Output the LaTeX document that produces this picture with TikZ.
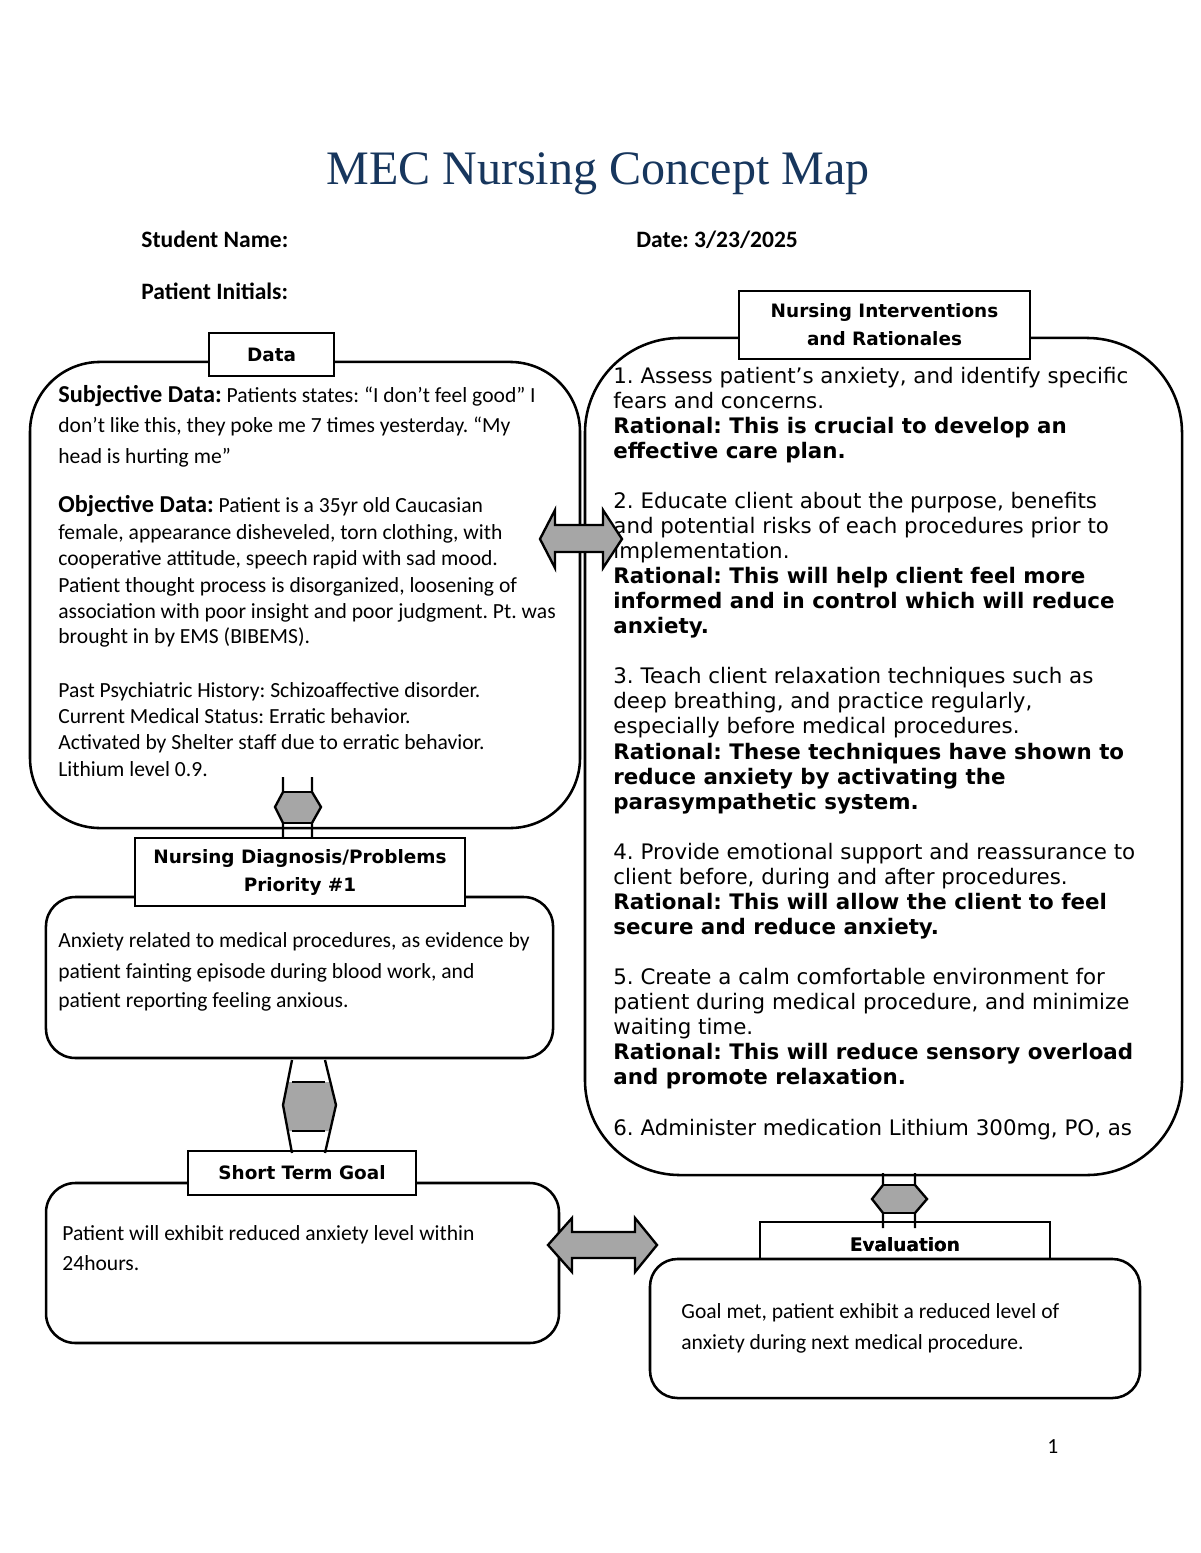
\documentclass[tikz,border=0pt]{standalone}
\usepackage{fontspec}
\setmainfont{Carlito}
\newfontfamily\dvfont{DejaVu Sans}
\newfontfamily\ttlfont{Liberation Serif}
\definecolor{titleblue}{HTML}{17365D}
\definecolor{arrowgray}{HTML}{A6A6A6}
\newcommand\RL[3]{\node[#1] (r#2) at (613,{383+25.07*#2}) {#3};}
\frenchspacing
\begin{document}
\begin{tikzpicture}[x=0.51pt,y=-0.51pt,
  rbox/.style={draw, line width=1.3pt, fill=white, inner sep=0pt},
  lbox/.style={draw, line width=0.7pt, fill=white, inner sep=0pt, align=center,
    font=\dvfont\bfseries\fontsize{9.4}{14.3}\selectfont},
  ltxt/.style={anchor=base west, inner sep=0pt, font=\fontsize{11}{13}\selectfont},
  hdr/.style={anchor=base west, inner sep=0pt, font=\bfseries\fontsize{12}{14}\selectfont},
  rtxt/.style={anchor=base west, inner sep=0pt, font=\dvfont\fontsize{10.9}{12.8}\selectfont},
  rbold/.style={anchor=base west, inner sep=0pt, font=\dvfont\bfseries\fontsize{10.9}{12.8}\selectfont},
  bigarrow/.style={draw, line width=1.2pt, fill=arrowgray, line join=miter},
  leg/.style={draw, line width=1.2pt}
]
\fill[white] (0,0) rectangle (1200,1553);
\useasboundingbox (0,0) rectangle (1200,1553);

% title and header
\node[anchor=base, inner sep=0pt, text=titleblue, font=\ttlfont\fontsize{24.5}{28}\selectfont] (title) at (598,185) {MEC Nursing Concept Map};
\node[hdr] (student) at (141,247) {Student Name:};
\node[hdr] (date) at (636,247) {Date: 3/23/2025};
\node[hdr] (initials) at (141,299) {Patient Initials:};

% rounded boxes
\node[rbox, rounded corners=35.7pt, minimum width=280.5pt, minimum height=237.7pt] (data) at (305,595) {};
\node[rbox, rounded corners=48.5pt, minimum width=304.5pt, minimum height=426.9pt] (interv) at (883.5,756.5) {};
\node[rbox, rounded corners=15pt, minimum width=258.6pt, minimum height=82.1pt] (diag) at (299.5,977.5) {};
\node[rbox, rounded corners=15pt, minimum width=261.6pt, minimum height=81.6pt] (goal) at (302.5,1263) {};
\node[lbox, minimum width=147.9pt, minimum height=23.5pt] (evallab) at (905,1245) {Evaluation};
\node[rbox, rounded corners=14pt, minimum width=249.9pt, minimum height=70.9pt] (eval) at (895,1328.5) {};
\node[inner sep=0pt, font=\dvfont\bfseries\fontsize{9.4}{14.3}\selectfont] at (evallab.center) {Evaluation};

% label boxes
\node[lbox, minimum width=63.75pt, minimum height=21.9pt] (datalab) at (271.5,354.5) {Data};
\node[lbox, minimum width=148.4pt, minimum height=34.7pt] (intervlab) at (884.5,325) {Nursing Interventions\\and Rationales};
\node[lbox, minimum width=168.3pt, minimum height=34.7pt] (diaglab) at (300,872) {Nursing Diagnosis/Problems\\Priority \#1};
\node[lbox, minimum width=116.3pt, minimum height=22.4pt] (goallab) at (302,1173) {Short Term Goal};

% data text
\node[ltxt] (d1) at (58,402) {{\bfseries\fontsize{12.4}{14}\selectfont Subjective Data:} Patients states: “I don’t feel good” I};
\node[ltxt] (d2) at (58,432) {don’t like this, they poke me 7 times yesterday. “My};
\node[ltxt] (d3) at (58,463) {head is hurting me”};
\node[ltxt] (d4) at (58,512) {{\bfseries\fontsize{12.4}{14}\selectfont Objective Data:} Patient is a 35yr old Caucasian};
\node[ltxt] (d5) at (58,539) {female, appearance disheveled, torn clothing, with};
\node[ltxt] (d6) at (58,565) {cooperative attitude, speech rapid with sad mood.};
\node[ltxt] (d7) at (58,592) {Patient thought process is disorganized, loosening of};
\node[ltxt] (d8) at (58,618) {association with poor insight and poor judgment. Pt. was};
\node[ltxt] (d9) at (58,643) {brought in by EMS (BIBEMS).};
\node[ltxt] (d10) at (58,697) {Past Psychiatric History: Schizoaffective disorder.};
\node[ltxt] (d11) at (58,723) {Current Medical Status: Erratic behavior.};
\node[ltxt] (d12) at (58,749) {Activated by Shelter staff due to erratic behavior.};
\node[ltxt] (d13) at (58,776) {Lithium level 0.9.};

% diagnosis text
\node[ltxt] (g1) at (58,947) {Anxiety related to medical procedures, as evidence by};
\node[ltxt] (g2) at (58,978) {patient fainting episode during blood work, and};
\node[ltxt] (g3) at (58,1007) {patient reporting feeling anxious.};

% goal text
\node[ltxt] (s1) at (62,1240) {Patient will exhibit reduced anxiety level within};
\node[ltxt] (s2) at (62,1270) {24hours.};

% evaluation text
\node[ltxt] (e1) at (681,1318) {Goal met, patient exhibit a reduced level of};
\node[ltxt] (e2) at (681,1349) {anxiety during next medical procedure.};

% interventions text
\RL{rtxt}{0}{1. Assess patient’s anxiety, and identify specific}
\RL{rtxt}{1}{fears and concerns.}
\RL{rbold}{2}{Rational: This is crucial to develop an}
\RL{rbold}{3}{effective care plan.}
\RL{rtxt}{5}{2. Educate client about the purpose, benefits}
\RL{rtxt}{6}{and potential risks of each procedures prior to}
\RL{rtxt}{7}{implementation.}
\RL{rbold}{8}{Rational: This will help client feel more}
\RL{rbold}{9}{informed and in control which will reduce}
\RL{rbold}{10}{anxiety.}
\RL{rtxt}{12}{3. Teach client relaxation techniques such as}
\RL{rtxt}{13}{deep breathing, and practice regularly,}
\RL{rtxt}{14}{especially before medical procedures.}
\RL{rbold}{15}{Rational: These techniques have shown to}
\RL{rbold}{16}{reduce anxiety by activating the}
\RL{rbold}{17}{parasympathetic system.}
\RL{rtxt}{19}{4. Provide emotional support and reassurance to}
\RL{rtxt}{20}{client before, during and after procedures.}
\RL{rbold}{21}{Rational: This will allow the client to feel}
\RL{rbold}{22}{secure and reduce anxiety.}
\RL{rtxt}{24}{5. Create a calm comfortable environment for}
\RL{rtxt}{25}{patient during medical procedure, and minimize}
\RL{rtxt}{26}{waiting time.}
\RL{rbold}{27}{Rational: This will reduce sensory overload}
\RL{rbold}{28}{and promote relaxation.}
\RL{rtxt}{30}{6. Administer medication Lithium 300mg, PO, as}

% page number
\node[ltxt] (page) at (1047,1453) {1};

% horizontal arrows
\draw[bigarrow] (540,539) -- (555,510) -- (555,525) -- (603,525) -- (603,510) -- (622,539)
  -- (603,568) -- (603,552) -- (555,552) -- (555,568) -- cycle;
\draw[bigarrow] (548,1245) -- (572,1218) -- (572,1232) -- (635,1232) -- (635,1218) -- (657,1245)
  -- (635,1272) -- (635,1258) -- (572,1258) -- (572,1272) -- cycle;

% vertical arrow data -> diagnosis
\fill[arrowgray] (283,792) -- (312,792) -- (321,807) -- (312,823) -- (283,823) -- (275,807) -- cycle;
\draw[leg] (283,777) -- (283,792) -- (275,807) -- (283,823) -- (283,838);
\draw[leg] (312,777) -- (312,792) -- (321,807) -- (312,823) -- (312,838);
\draw[leg] (283,792) -- (312,792) (283,823) -- (312,823);

% vertical arrow diagnosis -> goal
\fill[arrowgray] (288,1082) -- (329,1082) -- (336,1105) -- (329,1131) -- (288,1131) -- (283,1105) -- cycle;
\draw[leg] (292,1060) -- (283,1105) -- (292,1153);
\draw[leg] (325,1060) -- (336,1105) -- (325,1153);
\draw[leg] (292,1082) -- (325,1082) (292,1131) -- (325,1131);

% vertical arrow interventions -> evaluation
\fill[arrowgray] (883,1185) -- (915,1185) -- (927,1199) -- (915,1213) -- (883,1213) -- (872,1199) -- cycle;
\draw[leg] (883,1173) -- (883,1185) -- (872,1199) -- (883,1213) -- (883,1228);
\draw[leg] (915,1173) -- (915,1185) -- (927,1199) -- (915,1213) -- (915,1228);
\draw[leg] (883,1185) -- (915,1185) (883,1213) -- (915,1213);
\end{tikzpicture}
\end{document}
